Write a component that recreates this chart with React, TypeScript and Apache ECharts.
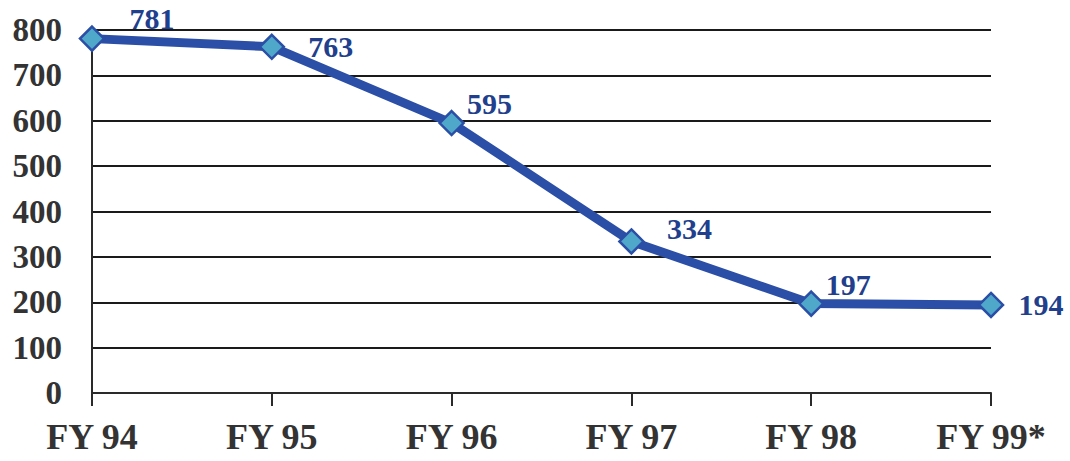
import React, { useEffect, useRef } from "react";
import * as echarts from "echarts";

const categories = ["FY 94", "FY 95", "FY 96", "FY 97", "FY 98", "FY 99*"];
const values = [781, 763, 595, 334, 197, 194];
const yTicks = [0, 100, 200, 300, 400, 500, 600, 700, 800];
const labelOffsets: number[][] = [
  [60, -20],
  [59, 0],
  [38, -20],
  [58, -13],
  [37, -19],
  [50, 0],
];

const SERIF = "'Liberation Serif', 'Times New Roman', Times, serif";

export default function App() {
  const ref = useRef<HTMLDivElement>(null);
  useEffect(() => {
    if (!ref.current) return;
    const chart = echarts.init(ref.current, undefined, { renderer: "svg" });
    chart.setOption({
      animation: false,
      backgroundColor: "#ffffff",
      grid: { left: 92, right: 79, top: 30, bottom: 68, containLabel: false },
      xAxis: {
        type: "category",
        data: categories,
        boundaryGap: false,
        axisLine: { show: true, lineStyle: { color: "#2a2a2a", width: 2 } },
        axisTick: { show: true, alignWithLabel: true, length: 13, lineStyle: { color: "#2a2a2a", width: 2 } },
        axisLabel: {
          color: "#333333",
          fontFamily: SERIF,
          fontWeight: "bold",
          fontSize: 36,
          margin: 26,
        },
        splitLine: { show: false },
      },
      yAxis: {
        type: "value",
        min: 0,
        max: yTicks[yTicks.length - 1],
        interval: 100,
        axisLine: { show: true, lineStyle: { color: "#2a2a2a", width: 2 } },
        axisTick: { show: false },
        axisLabel: {
          color: "#333333",
          fontFamily: SERIF,
          fontWeight: "bold",
          fontSize: 33,
          margin: 30,
        },
        splitLine: { show: true, lineStyle: { color: "#1a1a1a", width: 2 } },
      },
      series: [
        {
          type: "line",
          data: values.map((v, i) => ({
            value: v,
            label: {
              show: true,
              position: "inside",
              offset: labelOffsets[i],
            },
          })),
          lineStyle: { color: "#2b4ea6", width: 9 },
          symbol: "diamond",
          symbolSize: 24,
          itemStyle: { color: "#4fa8c9", borderColor: "#2b4ea6", borderWidth: 2.5 },
          label: {
            color: "#213f8c",
            fontFamily: SERIF,
            fontWeight: "bold",
            fontSize: 30,
          },
          z: 5,
        },
      ],
    });
    return () => chart.dispose();
  }, []);
  return <div ref={ref} style={{ width: 1070, height: 461, position: "absolute", left: 0, top: 0 }} />;
}
